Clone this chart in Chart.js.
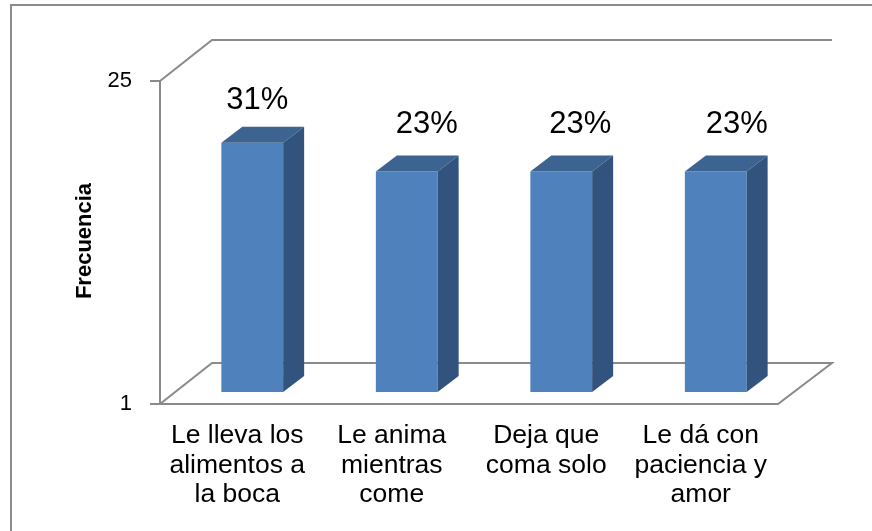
<!DOCTYPE html>
<html>
<head>
<meta charset="utf-8">
<script src="https://cdn.jsdelivr.net/npm/chart.js@4.4.1/dist/chart.umd.min.js"></script>
<style>
  html, body { margin: 0; padding: 0; background: #fff; }
  canvas { display: block; }
</style>
</head>
<body>
<canvas id="chart" width="872" height="531"></canvas>
<script>
const categories = [
  ["Le lleva los", "alimentos a", "la boca"],
  ["Le anima", "mientras", "come"],
  ["Deja que", "coma solo"],
  ["Le dá con", "paciencia y", "amor"],
];
const frecuencia = [12, 9, 9, 9];
const yTicks = [1, 25];
const yTitle = "Frecuencia";

const total = frecuencia.reduce((a, b) => a + b, 0);
const percentLabels = frecuencia.map(v => Math.round(v / total * 100) + "%");

// fake 3D box: offsets of the front / back planes from the plane the bars stand on
const FRONT = { dx: -15, dy: 12 };
const BACK = { dx: 37, dy: -29 };
const BAR_DEPTH = { dx: 21, dy: -16 };
const LINE = "#8a8a8a";
const FONT = "'Liberation Sans', Arial, sans-serif";

const box3d = {
  id: "box3d",
  beforeDraw(chart) {
    const ctx = chart.ctx;
    ctx.save();
    ctx.fillStyle = "#fff";
    ctx.fillRect(0, 0, chart.width, chart.height);
    ctx.strokeStyle = "#8c8c8c";
    ctx.lineWidth = 2;
    ctx.strokeRect(11, 5, chart.width + 20, chart.height + 20);
    ctx.restore();
  },
  beforeDatasetsDraw(chart) {
    const { ctx, chartArea } = chart;
    const y = chart.scales.y;
    const yTop = y.getPixelForValue(yTicks[yTicks.length - 1]);
    const yBot = y.getPixelForValue(yTicks[0]);
    const L = chartArea.left, R = chartArea.right;
    const p = (x, yy, o) => [x + o.dx, yy + o.dy];

    ctx.save();
    ctx.strokeStyle = LINE;
    ctx.lineWidth = 2;

    const line = (pts, close) => {
      ctx.beginPath();
      ctx.moveTo(pts[0][0], pts[0][1]);
      for (let i = 1; i < pts.length; i++) ctx.lineTo(pts[i][0], pts[i][1]);
      if (close) ctx.closePath();
      ctx.stroke();
    };

    // back wall top edge and left wall
    line([p(L, yTop, FRONT), p(L, yTop, BACK), p(R + 2, yTop, BACK)]);
    line([p(L, yTop, FRONT), p(L, yBot, FRONT)]);
    // floor
    line([p(L, yBot, FRONT), p(R, yBot, FRONT), p(R + 2, yBot, BACK), p(L, yBot, BACK)], true);
    // tick marks
    yTicks.forEach(v => {
      const [tx, ty] = p(L, y.getPixelForValue(v), FRONT);
      line([[tx - 10, ty], [tx, ty]]);
    });
    ctx.restore();
  },
  afterDatasetsDraw(chart) {
    const ctx = chart.ctx;
    const meta = chart.getDatasetMeta(0);
    ctx.save();
    meta.data.forEach(bar => {
      const half = bar.width / 2;
      const l = bar.x - half, r = bar.x + half;
      const t = bar.y, b = bar.base;
      const dx = BAR_DEPTH.dx, dy = BAR_DEPTH.dy;
      // top face
      ctx.fillStyle = "#3d6390";
      ctx.beginPath();
      ctx.moveTo(l, t);
      ctx.lineTo(l + dx, t + dy);
      ctx.lineTo(r + dx, t + dy);
      ctx.lineTo(r, t);
      ctx.closePath();
      ctx.fill();
      // side face
      ctx.fillStyle = "#32537d";
      ctx.beginPath();
      ctx.moveTo(r, t);
      ctx.lineTo(r + dx, t + dy);
      ctx.lineTo(r + dx, b + dy);
      ctx.lineTo(r, b);
      ctx.closePath();
      ctx.fill();
    });

    // percentage labels above the bars
    const labelShift = [[5, -42], [20, -47], [19, -47], [21, -47]];
    ctx.fillStyle = "#000";
    ctx.font = "31px " + FONT;
    ctx.textAlign = "center";
    ctx.textBaseline = "middle";
    meta.data.forEach((bar, i) => {
      ctx.fillText(percentLabels[i], bar.x + labelShift[i][0], bar.y + labelShift[i][1]);
    });

    // rotated axis title
    ctx.font = "bold 22px " + FONT;
    ctx.translate(85, 241);
    ctx.rotate(-Math.PI / 2);
    ctx.fillText(yTitle, 0, 0);
    ctx.restore();
  }
};

new Chart(document.getElementById("chart"), {
  type: "bar",
  data: {
    labels: categories,
    datasets: [{
      label: yTitle,
      data: frecuencia,
      backgroundColor: "#4f81bd",
      borderWidth: 0,
      barPercentage: 0.4,
      categoryPercentage: 1.0,
    }],
  },
  options: {
    responsive: false,
    animation: false,
    devicePixelRatio: 1,
    layout: { padding: { top: 69, right: 79, bottom: 0, left: 0 } },
    plugins: {
      legend: { display: false },
      tooltip: { enabled: false },
    },
    scales: {
      x: {
        afterFit: s => { s.height = 531 - 392; },
        grid: { display: false, drawTicks: false },
        border: { display: false },
        ticks: {
          padding: 29,
          labelOffset: -15,
          maxRotation: 0,
          autoSkip: false,
          color: "#000",
          font: { family: FONT, size: 26.5, lineHeight: 1.113 },
        },
      },
      y: {
        type: "logarithmic",
        min: 1,
        max: 25,
        afterBuildTicks: s => { s.ticks = yTicks.map(v => ({ value: v })); },
        afterFit: s => { s.width = 175; },
        grid: { display: false, drawTicks: false },
        border: { display: false },
        ticks: {
          padding: 43,
          labelOffset: 12,
          color: "#000",
          font: { family: FONT, size: 22 },
          callback: v => String(v),
        },
      },
    },
  },
  plugins: [box3d],
});
</script>
</body>
</html>
